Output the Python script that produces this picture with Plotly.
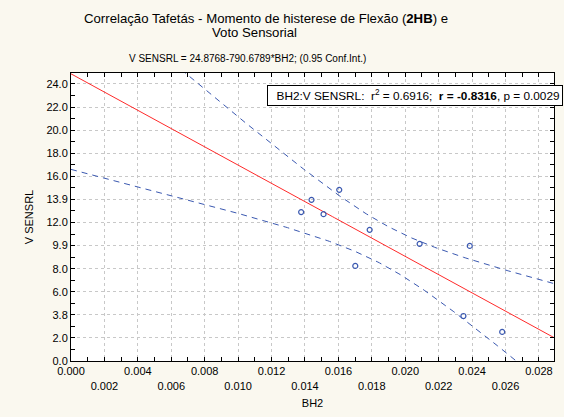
import numpy as np
import plotly.graph_objects as go

# Observations: bending hysteresis moment (BH2) vs. sensory vote
bh2 = [0.01377, 0.01439, 0.01511, 0.01605, 0.01701, 0.01787,
       0.02086, 0.02386, 0.02348, 0.02580]
v_sensrl = [12.9, 13.96, 12.72, 14.83, 8.24, 11.36,
            10.15, 9.97, 3.9, 2.52]

# Fitted regression V SENSRL = a + b*BH2
intercept = 24.8768
slope = -790.6789
t_crit = 2.306  # Student t, 0.975 quantile, 8 d.f.

x_ticks = [0.000, 0.002, 0.004, 0.006, 0.008, 0.010, 0.012, 0.014,
           0.016, 0.018, 0.020, 0.022, 0.024, 0.026, 0.028]
y_ticks = [0, 2, 4, 6, 8, 10, 12, 14, 16, 18, 20, 22, 24]
y_tick_labels = ["0.0", "2.0", "3.8", "6.0", "8.0", "9.9", "12.0",
                 "13.9", "16.0", "18.0", "20.0", "22.0", "24.0"]

X_MAX = 0.0289
Y_MAX = 24.95

xs = np.asarray(bh2)
ys = np.asarray(v_sensrl)
n = len(xs)
resid = ys - (intercept + slope * xs)
s = np.sqrt(np.sum(resid ** 2) / (n - 2))
sxx = np.sum((xs - xs.mean()) ** 2)

xg = np.linspace(0, X_MAX, 300)
fit = intercept + slope * xg
half = t_crit * s * np.sqrt(1 / n + (xg - xs.mean()) ** 2 / sxx)

blue = "#3A58B0"
fig = go.Figure()
fig.add_trace(go.Scatter(x=xg, y=fit + half, mode="lines",
                         line=dict(color=blue, width=1, dash="6px,5px")))
fig.add_trace(go.Scatter(x=xg, y=fit - half, mode="lines",
                         line=dict(color=blue, width=1, dash="6px,5px")))
fig.add_trace(go.Scatter(x=xg, y=fit, mode="lines",
                         line=dict(color="#FF2A2A", width=1)))
fig.add_trace(go.Scatter(x=bh2, y=v_sensrl, mode="markers",
                         marker=dict(symbol="circle-open", size=5,
                                     color=blue, line=dict(width=1.2))))

x_text = [f"{v:.3f}" if i % 2 == 0 else f" <br>{v:.3f}"
          for i, v in enumerate(x_ticks)]

font = "Liberation Sans, Arial, sans-serif"
axis_common = dict(showline=True, linecolor="black", linewidth=1,
                   mirror="allticks", ticks="inside", ticklen=4,
                   tickcolor="black", showgrid=True, gridcolor="#C8C8C8",
                   griddash="dot", gridwidth=1, zeroline=False,
                   tickfont=dict(family=font, size=11, color="black"))

fig.update_xaxes(range=[0, X_MAX], tickvals=x_ticks, ticktext=x_text,
                 title=dict(text="BH2", font=dict(family=font, size=11,
                                                  color="black"),
                            standoff=8),
                 minor=dict(dtick=0.001, tick0=0, ticks="inside", ticklen=4,
                            tickcolor="black", showgrid=False),
                 **axis_common)
fig.update_yaxes(range=[0, Y_MAX], tickvals=y_ticks, ticktext=y_tick_labels,
                 title=dict(text="V SENSRL", font=dict(family=font, size=11,
                                                       color="black"),
                            standoff=10),
                 minor=dict(dtick=1, tick0=0, ticks="inside", ticklen=4,
                            tickcolor="black", showgrid=False),
                 **axis_common)

W, H = 564, 417
ml, mr, mt, mb = 71, 10, 73, 56
pw = W - ml - mr
ph = H - mt - mb


def px(xp):
    return (xp - ml) / pw


def py(yp):
    return (H - mb - yp) / ph


annotations = [
    dict(text="Correlação Tafetás - Momento de histerese de Flexão (<b>2HB</b>) e",
         x=px(266), y=py(18.5), font=dict(size=13.2)),
    dict(text="Voto Sensorial", x=px(254), y=py(32.5), font=dict(size=13.2)),
    dict(text="V SENSRL = 24.8768-790.6789*BH2; (0.95 Conf.Int.)",
         x=px(247), y=py(58), font=dict(size=10)),
]
for a in annotations:
    a.update(xref="paper", yref="paper", xanchor="center", yanchor="middle",
             showarrow=False)
    a["font"].update(family=font, color="black")

annotations.append(dict(
    text="&nbsp;&nbsp;BH2:V SENSRL:  r<sup>2</sup> = 0.6916;  "
         "<b>r = -0.8316</b>, p = 0.0029",
    x=px(267), y=py(95.5), xref="paper", yref="paper", xanchor="left",
    yanchor="middle", showarrow=False, bgcolor="white", bordercolor="black",
    borderwidth=1, borderpad=2,
    font=dict(family=font, size=11.8, color="black")))

fig.update_layout(width=W, height=H,
                  margin=dict(l=ml, r=mr, t=mt, b=mb),
                  paper_bgcolor="#FAF8EF", plot_bgcolor="white",
                  showlegend=False, annotations=annotations)

fig.write_html("out.html")
